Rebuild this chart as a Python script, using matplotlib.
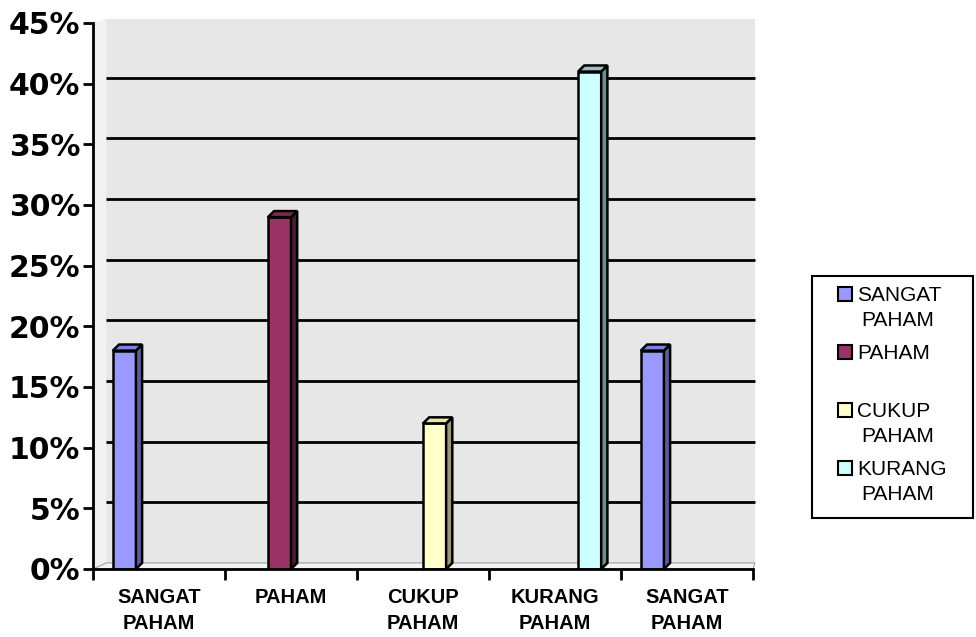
import matplotlib
matplotlib.use("Agg")
import matplotlib.pyplot as plt
from matplotlib.patches import Rectangle, Polygon
import numpy as np

# ---- data ----
categories = ["SANGAT\nPAHAM", "PAHAM", "CUKUP\nPAHAM", "KURANG\nPAHAM", "SANGAT\nPAHAM"]
series_names = ["SANGAT\nPAHAM", "PAHAM", "CUKUP\nPAHAM", "KURANG\nPAHAM"]
sangat_paham = [18, 0, 0, 0, 18]
paham = [0, 29, 0, 0, 0]
cukup_paham = [0, 0, 12, 0, 0]
kurang_paham = [0, 0, 0, 41, 0]
yticks = [0, 5, 10, 15, 20, 25, 30, 35, 40, 45]

series_values = [sangat_paham, paham, cukup_paham, kurang_paham]
front_colors = ["#9999FF", "#993366", "#FFFFCC", "#CCFFFF"]
side_colors = ["#5C5C99", "#4D1A33", "#99997A", "#6E8C8C"]
top_colors = ["#8080E0", "#80294F", "#E6E6B0", "#99BFBF"]

W, H = 976, 637
fig = plt.figure(figsize=(W / 100, H / 100), dpi=100)
fig.patch.set_facecolor("white")

ax_left, ax_right, ax_bottom, ax_top = 93, 753, 569, 23
ax = fig.add_axes([ax_left / W, (H - ax_bottom) / H, (ax_right - ax_left) / W, (ax_bottom - ax_top) / H])
ax.set_xlim(0, len(categories))
ax.set_ylim(0, 45)
ax.patch.set_alpha(0)

# 3D back wall, floor and side wall
wx0, wx1, wy0, wy1 = 0.1, 5.015, 0.5, 45.35
ax.add_patch(Rectangle((wx0, wy0), wx1 - wx0, wy1 - wy0, facecolor="#E7E7E7", edgecolor="none", zorder=0, clip_on=False))
ax.add_patch(Polygon([(0, 0), (wx0, wy0), (wx0, wy1), (0, 45)], closed=True, facecolor="#F2F2F2", edgecolor="none", zorder=0, clip_on=False))
ax.add_patch(Polygon([(0, 0), (5, 0), (wx1, wy0), (wx0, wy0)], closed=True, facecolor="#F4F4F4", edgecolor="#A0A0A0", lw=0.8, zorder=0.5, clip_on=False))

for v in yticks[1:-1]:
    ax.plot([wx0, wx1], [v + wy0, v + wy0], color="black", lw=2, zorder=1, clip_on=False, solid_capstyle="butt")

# bars
x = np.arange(len(categories)) + 0.5
w = 0.175
ddx, ddy = 0.047, 0.5
n = len(series_values)
for j, vals in enumerate(series_values):
    vals = np.array(vals, dtype=float)
    xs = x + (j - (n - 1) / 2) * w
    mask = vals > 0
    ax.bar(xs[mask], vals[mask], width=w, color=front_colors[j], edgecolor="black", linewidth=1.8, zorder=3)
    for xc, v in zip(xs[mask], vals[mask]):
        side = [(xc + w / 2, 0), (xc + w / 2 + ddx, ddy), (xc + w / 2 + ddx, v + ddy), (xc + w / 2, v)]
        top = [(xc - w / 2, v), (xc - w / 2 + ddx, v + ddy), (xc + w / 2 + ddx, v + ddy), (xc + w / 2, v)]
        ax.add_patch(Polygon(side, closed=True, facecolor=side_colors[j], edgecolor="black", lw=1.8, zorder=3, clip_on=False))
        ax.add_patch(Polygon(top, closed=True, facecolor=top_colors[j], edgecolor="black", lw=1.8, zorder=3, clip_on=False))

# axes styling
for s in ["top", "right"]:
    ax.spines[s].set_visible(False)
for s in ["left", "bottom"]:
    ax.spines[s].set_linewidth(2)
    ax.spines[s].set_color("black")
    ax.spines[s].set_zorder(5)

ax.set_yticks(yticks)
ax.set_yticklabels([f"{v}%" for v in yticks], fontsize=21.5, fontweight="heavy", family="DejaVu Sans")
ax.tick_params(axis="y", direction="out", length=7, width=2, pad=2)

ax.set_xticks(np.arange(len(categories) + 1))
ax.set_xticklabels([])
ax.tick_params(axis="x", which="major", direction="out", length=8, width=2)
ax.set_xticks(x, minor=True)
labels = ax.set_xticklabels(categories, minor=True, fontsize=14.5, fontweight="bold", family="Liberation Sans")
for t in labels:
    t.set_linespacing(1.45)
ax.tick_params(axis="x", which="minor", length=0, pad=14)

# legend (manual, Excel-like)
fig.add_artist(Rectangle((812 / W, 1 - 518 / H), (973 - 812) / W, (518 - 276) / H, transform=fig.transFigure,
                         facecolor="white", edgecolor="black", lw=1.5))
first_line = 294
slot = 58
line_h = 25
for k, name in enumerate(series_names):
    cy = first_line + slot * k
    fig.add_artist(Rectangle((838 / W, 1 - (cy + 7) / H), 14 / W, 14 / H, transform=fig.transFigure,
                             facecolor=front_colors[k], edgecolor="black", lw=1.5))
    for i, line in enumerate(name.split("\n")):
        fig.text(857 / W if i == 0 else 861 / W, 1 - (cy + 7 + line_h * i) / H, line, fontsize=15,
                 family="Liberation Sans", va="baseline", ha="left")

fig.savefig("out.png", dpi=100)
